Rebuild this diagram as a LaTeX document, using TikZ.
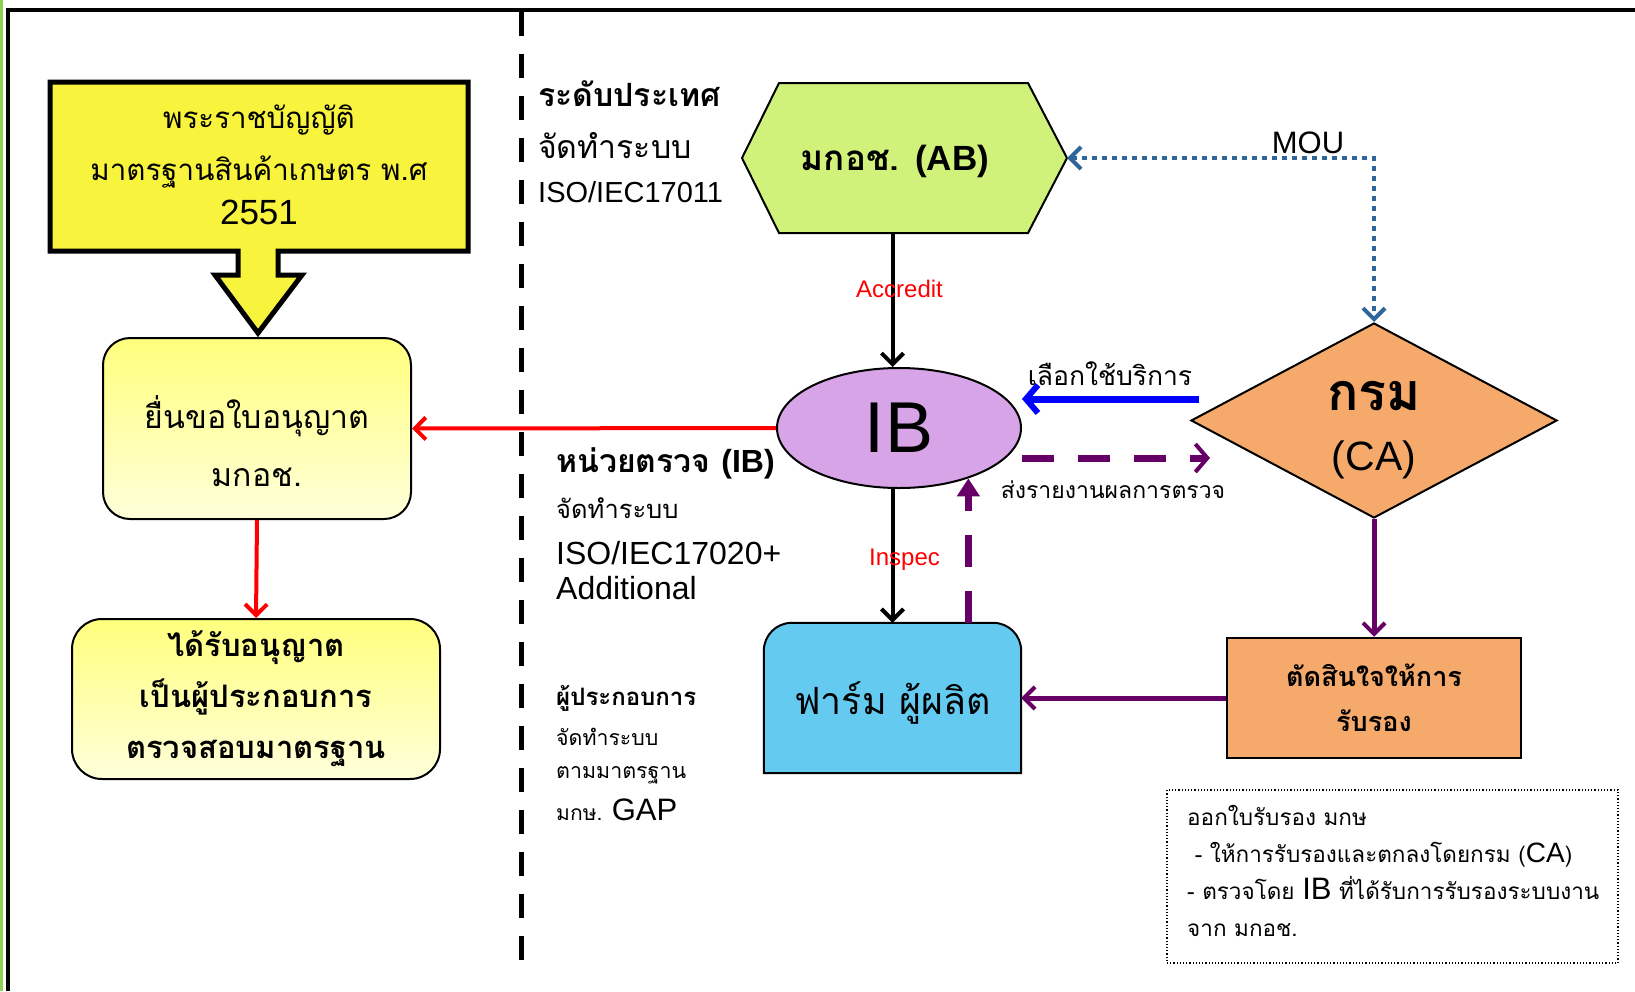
\documentclass[tikz,border=0pt]{standalone}
\usepackage{fontspec}
\setmainfont{Liberation Sans}
\newfontfamily\thai[Script=Thai]{Loma}
\usetikzlibrary{shapes.geometric,arrows.meta}

\definecolor{lawyellow}{RGB}{248,244,62}
\definecolor{lightyellow}{RGB}{255,255,125}
\definecolor{paleyellow}{RGB}{255,255,218}
\definecolor{abgreen}{RGB}{208,242,122}
\definecolor{caorange}{RGB}{245,170,108}
\definecolor{iblilac}{RGB}{216,164,232}
\definecolor{farmblue}{RGB}{100,202,240}
\definecolor{moublue}{RGB}{46,102,153}
\definecolor{reportpurple}{RGB}{102,0,102}
\definecolor{framegreen}{RGB}{140,210,80}
\newcommand{\fsz}[2]{\fontsize{#1}{#2}\selectfont}

\begin{document}
\begin{tikzpicture}[x=1pt,y=1pt,
  every node/.style={inner sep=0pt},
  stepbox/.style={draw=black, line width=2pt, top color=lightyellow,
    bottom color=paleyellow},
  flatbox/.style={draw=black, line width=2.5pt, rectangle},
  barb/.style={-{Straight Barb[length=11pt,width=22pt,line width=4pt]}},
  redline/.style={red, line width=4pt, barb},
  blackline/.style={black, line width=4pt, barb},
  side/.style={anchor=west, align=left},
  lbl/.style={red, font=\fsz{24}{24}}]
\useasboundingbox (0,0) rectangle (1635,-991);

% frame
\fill[framegreen] (0,0) rectangle (3,-991);
\draw[line width=4pt] (8,-991) -- (8,-10) -- (1635,-10);

% divider
\draw[line width=5pt, dash pattern=on 24pt off 18pt] (521,-12) -- (521,-960);

% act (callout)
\filldraw[fill=lawyellow, line width=5pt, line join=miter]
  (50,-82) -- (468,-82) -- (468,-251) -- (278,-251) -- (278,-275) -- (302,-275)
  -- (258,-333) -- (215,-275) -- (238,-275) -- (238,-251) -- (50,-251) -- cycle;
\node[align=center, font=\thai\fsz{29.5}{52}] (law) at (259,-165)
  {พระราชบัญญัติ\\มาตรฐานสินค้าเกษตร พ.ศ\\[-8pt]{\rmfamily\fsz{35}{40}2551}};

% licence steps
\node[stepbox, rounded corners=27pt, minimum width=308pt, minimum height=181pt]
  (apply) at (257,-428.5) {};
\node[align=center, font=\thai\fsz{32}{58}] (apply text) at (257,-441)
  {ยื่นขอใบอนุญาต\\มกอช.};
\node[stepbox, rounded corners=30pt, minimum width=368pt, minimum height=160pt,
  align=center, font=\thai\bfseries\fsz{31}{51}] (licence) at (256,-699)
  {ได้รับอนุญาต\\เป็นผู้ประกอบการ\\ตรวจสอบมาตรฐาน};
\draw[redline] (apply.south) -- (licence.north);

% side notes
\node[side, font=\thai\bfseries\fsz{32}{32}] (national) at (538,-94) {ระดับประเทศ};
\node[side, font=\thai\fsz{32}{32}] (national sys) at (538,-146) {จัดทำระบบ};
\node[side, font=\fsz{29}{29}] (national iso) at (538,-192) {ISO/IEC17011};
\node[side, font=\thai\bfseries\fsz{32}{32}] (body) at (556,-463) {หน่วยตรวจ {\rmfamily(IB)}};
\node[side, font=\thai\fsz{25.5}{25.5}] (body sys) at (556,-508) {จัดทำระบบ};
\node[side, font=\fsz{32}{35}] (body iso) at (556,-571) {ISO/IEC17020+\\Additional};
\node[side, font=\thai\bfseries\fsz{24}{24}] (operator) at (556,-698) {ผู้ประกอบการ};
\node[side, font=\thai\fsz{21.3}{21.3}] (operator sys) at (556,-737) {จัดทำระบบ};
\node[side, font=\thai\fsz{21.4}{21.4}] (operator std) at (556,-775) {ตามมาตรฐาน};
\node[side, font=\thai\fsz{21}{21}] (operator gap) at (556,-810) {มกษ. {\rmfamily\fsz{31}{31}GAP}};

% AB
\filldraw[fill=abgreen, line width=2pt]
  (742,-158) -- (779,-83) -- (1028,-83) -- (1067,-158) -- (1028,-233) -- (779,-233) -- cycle;
\node[minimum width=325pt, minimum height=150pt] (ab) at (904.5,-158) {};
\node[font=\thai\bfseries\fsz{35}{35}] (ab text) at (895,-161) {มกอช. {\rmfamily(AB)}};

% IB
\node[ellipse, draw=black, line width=2pt, fill=iblilac, minimum width=244pt,
  minimum height=120pt, font=\fsz{72}{72}] (ib) at (899,-428) {IB};

% CA
\node[diamond, draw=black, line width=2pt, fill=caorange, minimum width=366pt,
  minimum height=195pt] (ca) at (1374,-420.5) {};
\node[align=center, font=\thai\bfseries\fsz{52}{60}] (ca text) at (1374,-430)
  {กรม\\{\rmfamily\mdseries\fsz{41}{41}(CA)}};

% farm
\node[minimum width=257pt, minimum height=150pt] (farm) at (892.5,-698) {};
\filldraw[fill=farmblue, line width=2pt] (farm.south west) -- ([yshift=-28pt]farm.north west)
  arc[start angle=180, end angle=90, radius=28pt] -- ([xshift=-28pt]farm.north east)
  arc[start angle=90, end angle=0, radius=28pt] -- (farm.south east) -- cycle;
\node[font=\thai\fsz{37.5}{37.5}] (farm text) at ([yshift=-5pt]farm.center) {ฟาร์ม ผู้ผลิต};

% decision
\node[flatbox, fill=caorange, minimum width=294pt, minimum height=120pt,
  align=center, font=\thai\bfseries\fsz{27}{45}] (decide) at (1374,-698)
  {ตัดสินใจให้การ\\รับรอง};

% note
\node[draw=black, line width=1.2pt, dotted, minimum width=451pt,
  minimum height=173pt] (note) at (1392.5,-876.5) {};
\node[anchor=north west, align=left, font=\thai\fsz{22.5}{37}] (note text) at (1187,-805)
  {ออกใบรับรอง มกษ\\
   \ - ให้การรับรองและตกลงโดยกรม ({\rmfamily\fsz{28}{28}CA})\\
   - ตรวจโดย {\rmfamily\fsz{31}{31}IB} ที่ได้รับการรับรองระบบงาน\\
   จาก มกอช.};

% connectors
\draw[redline] (ib.west) -- (apply.east);
\draw[blackline] (farm.north |- ab.south) -- (farm.north |- ib.north)
  node[lbl, midway, xshift=7pt, yshift=11pt] (accredit) {Accredit};
\draw[blackline] (farm.north |- ib.south) -- (farm.north)
  node[lbl, midway, xshift=12pt, yshift=-4pt] (inspec) {Inspec};
\draw[moublue, line width=4.5pt, dash pattern=on 5pt off 5pt,
  {Straight Barb[length=11pt,width=22pt,line width=4pt]}-{Straight Barb[length=11pt,width=22pt,line width=4pt]}]
  (ab.east) -| (ca.north);
\node[font=\fsz{31}{31}] (mou) at (1308,-143) {MOU};

\coordinate (svc) at (1199,-399);
\draw[blue, line width=7pt, -{Straight Barb[length=12pt,width=28pt,line width=6pt]}]
  (svc) -- (svc -| ib.east);
\node[font=\thai\fsz{26.5}{26.5}] (svc text) at (1110,-374) {เลือกใช้บริการ};

\coordinate (rep) at (1210,-458);
\draw[reportpurple, line width=7pt, dash pattern=on 32pt off 24pt,
  -{Straight Barb[length=12pt,width=28pt,line width=4pt]}]
  (rep -| ib.east) -- (rep);
\node[font=\thai\fsz{23}{23}] (rep text) at (1113,-490) {ส่งรายงานผลการตรวจ};
\draw[reportpurple, line width=7pt, dash pattern=on 32pt off 24pt,
  -{Triangle[length=18pt,width=22pt]}]
  (ib.-36 |- farm.north) -- (ib.-36);

\draw[reportpurple, line width=5pt, barb] (ca.south) -- (decide.north);
\draw[reportpurple, line width=5pt, barb] (decide.west) -- (farm.east);
\end{tikzpicture}
\end{document}
